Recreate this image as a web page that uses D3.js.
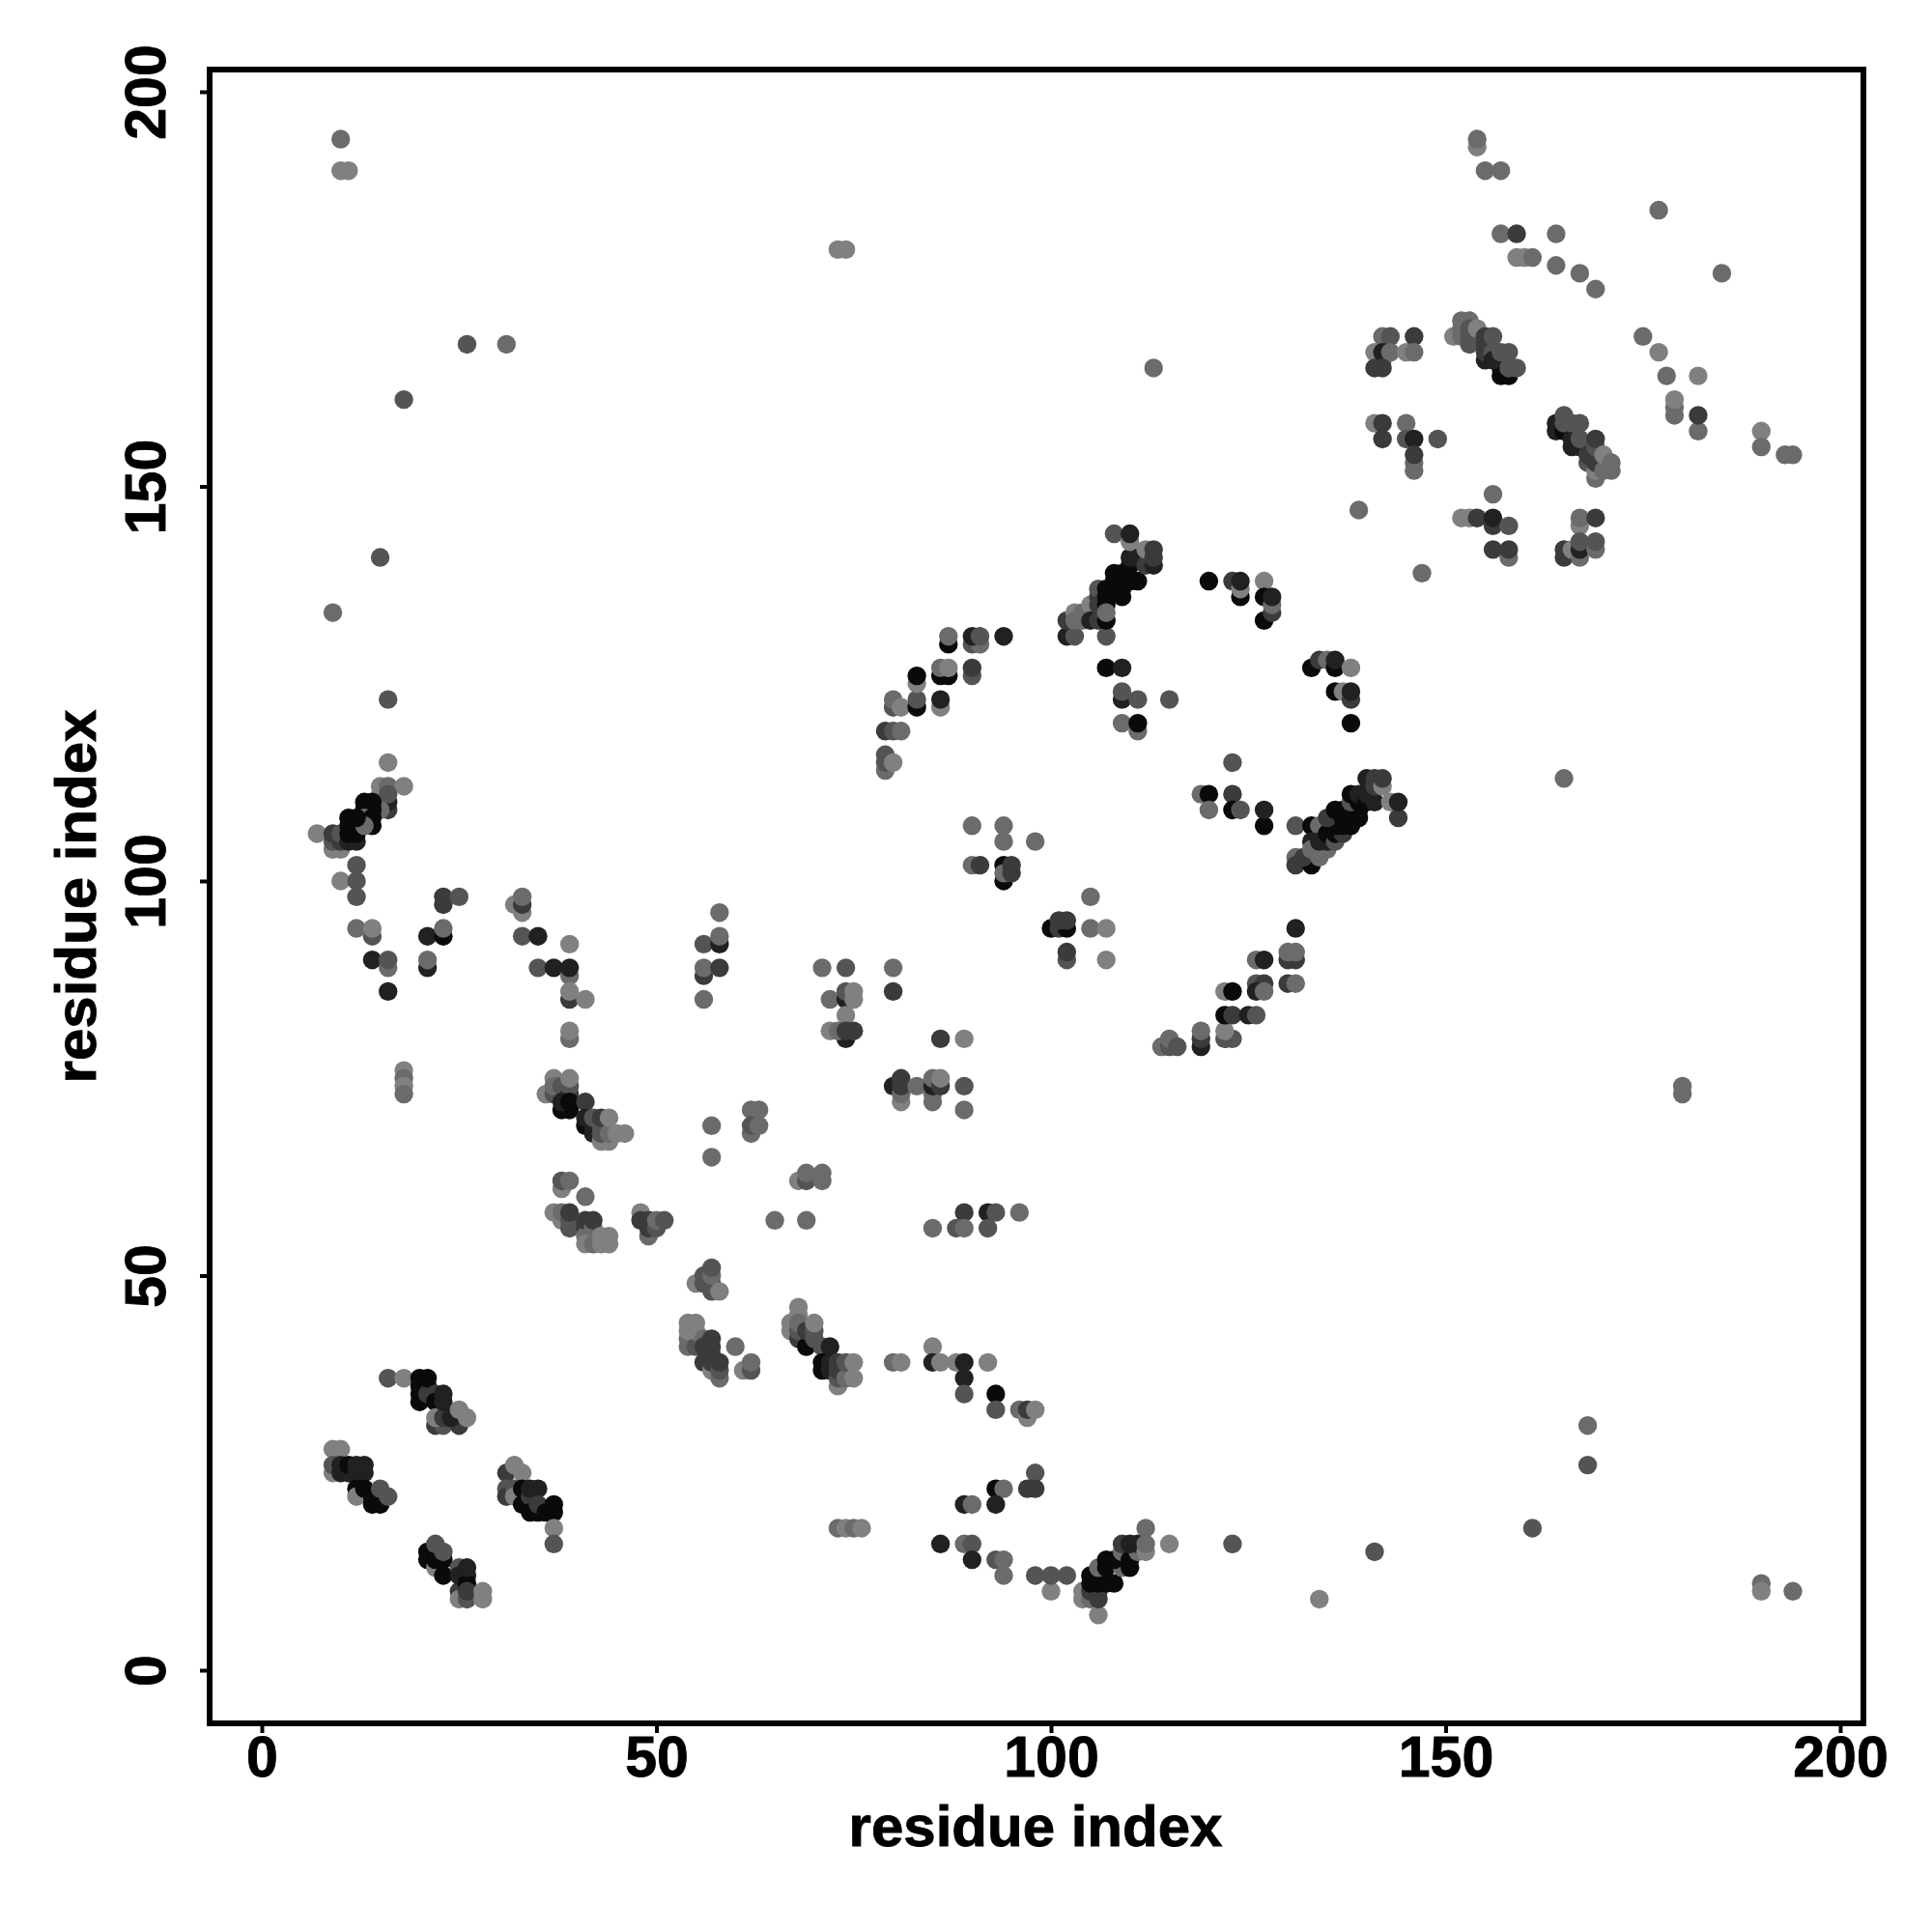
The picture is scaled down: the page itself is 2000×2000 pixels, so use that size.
<!DOCTYPE html>
<html><head><meta charset="utf-8"><style>html,body{margin:0;background:#fff}</style>
<script src="https://cdn.jsdelivr.net/npm/d3@7"></script></head><body>
<svg id="c" width="2000" height="2000"></svg>
<script>
// Contact strength levels read from the grey of each dot
const L=.5, M=.58, D=.67, S=.77, K=.87, B=.96;
const axisTicks=[0,50,100,150,200];
const axisTitle="residue index";
// each entry: [residue x, residue y, strength], in drawing order
const blockLowerLeft=[
[16,37,D],[18,37,L],[20,34,B],[20,35,B],[20,36,B],[20,37,B],[21,36,B],[21,35,S],[21,37,B],[22,35,S],[22,34,B],[23,33,B],[22,31,S],[23,31,D],[25,31,S],[22,32,L],[23,32,S],[24,32,K],[23,34,K],[23,35,K],[25,33,L],[26,32,L],
[9,28,L],[10,28,L],[9,25,L],[9,26,D],[10,25,K],[10,26,K],[11,25,K],[11,26,B],[12,25,K],[12,26,K],[13,25,K],[13,26,K],[12,23,B],[12,22,L],[13,23,B],[14,21,B],[15,21,B],[14,22,B],[15,23,D],[16,22,D],
[31,25,S],[32,26,L],[33,25,L],[31,23,D],[31,22,S],[32,23,D],[32,22,L],[33,21,B],[33,23,B],[34,22,S],[34,23,K],[35,23,K],[34,20,B],[35,20,B],[35,21,S],[36,20,B],[37,20,B],[37,21,B],[37,18,L],[37,16,D],
[21,15,B],[21,14,B],[22,13,L],[22,14,B],[22,16,D],[23,12,B],[23,14,B],[23,15,D],[25,10,S],[25,9,L],[26,9,D],[25,13,D],[25,12,K],[26,12,K],[26,11,B],[26,10,S],[26,13,K],[28,10,L],[28,9,L]
];
const blockLeftColumn=[
[10,194,M],[10,190,L],[11,190,L],[26,168,D],[31,168,M],[18,161,D],[15,141,D],[9,134,M],[16,123,D],
[16,115,L],[15,112,L],[15,111,L],[16,112,M],[18,112,L],[16,109,S],[16,110,K],[16,111,D],[15,109,M],[13,109,B],[13,110,B],[14,110,B],[14,109,B],[13,108,M],[14,107,B],[14,108,B],
[7,106,L],[9,104,L],[10,104,L],[9,105,D],[10,105,S],[9,106,S],[10,106,D],[11,105,K],[12,105,K],[11,106,B],[12,106,B],[11,107,B],[12,107,B],[13,107,M],[11,108,B],[12,108,B],
[12,102,D],[10,100,L],[12,100,D],[12,98,D],[14,93,D],[12,94,M],[14,94,L],[14,90,K],[16,89,M],[16,90,D],[16,86,K],
[18,76,L],[18,75,M],[18,74,L],[18,73,M],
[23,97,S],[23,98,S],[25,98,D],[21,93,K],[23,93,B],[23,94,M],[21,89,K],[21,90,M]
];
const blockMiddleLeft=[
[32,97,L],[33,96,L],[33,97,S],[33,98,M],[33,93,D],[35,93,K],[39,92,L],
[35,89,D],[37,89,K],[39,88,M],[39,89,K],[39,85,S],[39,86,L],[41,85,L],[39,80,M],[39,81,L],
[36,73,L],[37,75,L],[37,73,D],[37,74,M],[38,74,D],[39,73,S],[39,74,D],[38,71,B],[39,71,B],[38,72,K],[39,72,B],[39,75,L],[41,72,S],[41,69,B],[41,70,K],[42,68,K],[42,69,K],[43,67,L],[44,67,L],[43,68,D],[42,70,D],[43,69,D],[43,70,S],[44,68,M],[44,70,L],[45,68,L],[46,68,L],
[38,61,L],[38,62,D],[39,62,M],[41,60,M],
[37,58,L],[38,57,L],[38,58,M],[39,56,D],[39,57,D],[39,58,S],[41,56,S],[42,55,M],[41,55,M],[41,54,L],[42,54,M],[41,57,S],[42,56,M],[42,57,S],[43,54,L],[44,54,L],[43,55,L],[44,55,L],
[48,58,L],[48,57,S],[49,55,M],[49,56,S],[49,57,S],[50,56,D],[50,57,M],[51,57,D],
[56,85,M],[56,88,S],[56,89,M],[56,92,D],[58,89,S],[58,92,K],[58,93,M],[58,96,M],
[57,69,M],[57,65,M],[62,71,M],[63,71,M],[62,68,M],[62,69,D],[63,69,M],[65,57,M],[69,57,M],
[68,62,L],[69,62,D],[69,63,M],[71,62,M],[71,63,M],
[71,89,M],[74,89,D],[72,85,M],[74,85,K],[74,86,D],[75,85,L],[75,86,L],[74,83,L],[74,80,K],[72,81,L],[73,81,M],[74,81,S],[75,81,S]
];
const blockBottomMiddle=[
[55,49,L],[56,49,D],[56,50,D],[57,48,D],[57,49,D],[57,50,M],[57,51,D],[58,48,L],
[54,41,M],[54,42,M],[54,43,L],[54,44,L],[55,41,D],[55,43,L],[55,44,L],[56,42,M],[56,39,S],[56,41,S],[57,38,L],[57,39,S],[57,40,S],[57,41,S],[57,42,S],[58,37,M],[58,38,D],[58,39,S],[60,41,M],[61,38,L],[62,38,D],[62,39,M],
[67,43,L],[67,44,L],[68,46,L],[68,45,L],[68,42,S],[68,43,D],[68,44,M],[69,41,B],[69,43,S],[70,42,D],[70,43,D],[70,44,L],[71,41,D],[72,41,K],[71,38,B],[71,39,B],[72,38,K],[72,39,K],[73,36,L],[73,37,D],[73,38,S],[73,39,S],[74,37,M],[74,39,D],[75,37,L],[75,39,L],
[80,39,M],[81,39,L],[85,41,L],[85,39,K],[86,39,L],[88,39,L],[89,39,K],[89,37,K],[89,35,D],[92,39,L],[93,35,B],[93,33,D],[96,33,M],[97,32,L],[97,33,S],[98,33,L],
[98,25,D],[97,23,S],[98,23,S],[93,23,B],[94,23,M],[93,21,K],[89,21,K],[90,21,M],
[73,18,M],[74,18,L],[75,18,M],[76,18,L],
[86,16,K],[89,16,M],[90,16,D],[90,14,K],[93,14,D],[94,14,M],[94,12,M],[98,12,D],[100,10,L],[100,12,D],[102,12,D],
[104,10,L],[104,9,L],[105,9,M],[105,10,S],[106,7,L],[106,9,S],[106,10,S],[105,11,B],[105,12,B],[106,11,B],[106,12,B],[107,11,B],[108,11,B],[106,13,M],[107,13,B],[107,14,B],[109,13,M],[108,14,B],[109,15,M],[109,16,S],[110,13,B],[110,14,B],[111,15,M],[110,16,K],[111,16,K],[112,15,L],[112,16,M],[112,18,M],[115,16,L],[123,16,D],[141,15,D],[134,9,L],
[161,18,D],[168,31,M],[168,26,D],[190,11,M],[190,10,L],[194,10,M]
];
const blockCentre=[
[80,89,M],[80,86,S],[86,80,S],[89,80,L],
[80,74,K],[81,72,L],[81,73,M],[81,74,S],[81,75,S],[83,74,M],[85,72,M],[85,73,M],[85,74,K],[85,75,M],[86,74,S],[86,75,L],[89,74,D],[89,71,M],
[89,58,S],[92,58,K],[93,58,D],[96,58,M],[85,56,M],[88,56,D],[89,56,M],[92,56,D],
[100,94,B],[101,94,S],[102,90,D],[102,91,S],[102,94,B],[101,95,S],[102,95,S],[105,94,M],[107,94,L],[107,90,L],[105,98,M],
[90,107,M],[94,107,M],[94,105,M],[98,105,M],[90,102,M],[91,102,S],[94,100,B],[94,102,B],[94,101,M],[95,101,S],[95,102,S],
[114,79,M],[115,79,D],[115,80,M],[116,79,D],[119,79,K],[119,80,S],[119,81,M],
[122,80,D],[123,80,D],[122,81,L],[122,83,B],[123,83,S],[125,83,K],[126,83,D],[122,86,L],[123,86,B],
[126,87,D],[127,87,S],[126,86,K],[127,86,M],[126,90,M],[127,90,K],[130,87,S],[131,87,M],[130,90,S],[131,90,S],[130,91,M],[131,91,M],[131,94,K]
];
const blockArc=[
[79,114,M],[79,115,D],[79,116,D],[80,115,L],[79,119,S],[80,119,D],[81,119,M],
[80,122,D],[80,123,M],[81,122,L],[83,122,B],[83,123,D],[86,122,L],[86,123,K],
[83,125,L],[83,126,B],[86,126,B],[87,126,B],[86,127,M],[87,127,L],[90,126,D],[90,127,S],
[87,130,B],[87,131,M],[90,130,D],[91,130,M],[90,131,K],[91,131,D],[94,131,K],
[102,131,K],[103,131,D],[102,133,S],[103,134,L],[103,133,M],[104,133,M],[104,134,M],[105,135,L],[105,133,K],[106,133,S],[107,131,D],[107,133,B],
[106,136,S],[106,137,D],[106,135,S],[107,135,B],[107,136,B],[107,137,B],[107,134,M],[108,138,B],[108,139,B],[109,136,B],[109,137,B],[109,139,B],[110,138,B],[110,140,B],[111,138,B],[110,141,K],[111,141,K],[112,140,S],[112,142,L],[113,140,K],[113,141,S],[113,142,S],[108,144,D],[110,143,L],[110,144,K],
[107,127,B],[109,127,K],[109,123,K],[109,124,D],[111,123,D],[115,123,D],[109,120,M],[111,119,M],[111,120,B],
[113,165,M],[120,138,B],[123,138,S],[124,136,B],[124,137,L],[124,138,K],[127,138,L],[127,136,B],[127,133,B],[128,134,S],[128,135,M],[128,136,K],
[133,127,B],[134,128,S],[135,128,M],[136,127,B],[136,128,K],[138,127,L],[136,124,B],[137,124,L],[138,123,S],[138,124,K],[138,120,B]
];
const blockRightArc=[
[123,115,D],[119,111,M],[120,111,B],[123,111,S],[120,109,M],[123,109,B],[124,109,D],[127,107,B],[127,109,K],
[131,107,D],[131,103,M],[131,102,S],[133,102,B],[132,103,S],[133,107,B],[134,107,M],[133,105,K],[133,104,M],[134,103,M],[135,104,M],[134,105,K],[135,105,K],[135,106,B],[136,105,D],[136,106,B],[137,106,S],[136,107,B],[137,107,B],[135,108,S],[136,109,B],[137,108,B],[137,109,B],[138,107,B],[138,109,B],[139,108,B],[139,109,B],[138,110,D],[139,110,B],[138,111,B],[139,111,K],[140,110,B],[140,111,K],[141,110,K],[140,113,K],[141,112,S],[141,113,S],[142,112,L],[142,113,S],[143,110,L],[144,108,S],[144,110,K],
[180,73,M],[180,74,M],[165,113,M]
];
const blockUpperRight=[
[142,169,M],[143,169,D],[146,169,S],[141,167,L],[142,166,M],[142,167,K],[143,167,M],[145,167,L],[146,167,M],[141,165,S],[142,165,S],
[151,169,L],[152,169,M],[153,168,D],[152,171,M],[153,171,M],[152,170,M],[153,170,D],[153,169,D],[154,170,L],[155,166,K],[155,167,S],[155,168,S],[155,169,S],[156,169,D],[156,167,D],[157,164,B],[157,165,B],[156,166,K],[158,164,B],[157,167,D],[158,165,D],[158,167,D],[159,165,D],
[141,158,L],[142,158,S],[145,158,M],[142,156,S],[145,156,D],[146,156,K],[149,156,D],[146,152,M],[146,153,M],[146,154,S],
[164,157,K],[164,158,K],[165,157,B],[165,159,D],[165,158,D],[166,155,K],[166,156,K],[166,158,D],[167,155,K],[167,156,D],[167,158,D],[168,153,D],[168,154,S],[169,151,M],[169,152,L],[169,153,S],[169,155,D],[169,156,S],[170,152,M],[170,154,L],[171,152,M],[171,153,M],
[139,147,M],[147,139,M],
[152,146,L],[153,146,L],[154,146,S],[156,145,S],[156,146,K],[156,149,M],[158,145,D],[158,141,M],[156,142,S],[158,142,S],
[167,145,L],[167,146,M],[169,146,S],[165,141,S],[165,142,S],[166,142,L],[167,141,M],[167,142,K],[167,143,D],[169,142,M],[169,143,D],
[154,193,L],[154,194,M],[155,190,M],[157,190,M],[157,182,M],[159,182,S],[159,179,L],[160,179,L],[161,179,M],[164,182,M],[164,178,M],[167,177,M],[169,175,M],[177,185,M],[185,177,M],
[175,169,M],[177,167,L],[178,164,M],[182,164,L],[179,159,M],[179,160,M],[179,161,L],[182,157,M],[182,159,S],
[190,157,L],[190,155,M],[193,154,M],[194,154,M],[73,180,L],[74,180,L]
];
const allContacts=[...blockLowerLeft,...blockLeftColumn,...blockMiddleLeft,...blockBottomMiddle,...blockCentre,...blockArc,...blockRightArc,...blockUpperRight];

const x=d3.scaleLinear().domain([0,200]).range([271,1905]);
const y=d3.scaleLinear().domain([0,200]).range([1729,95]);
const grey=d3.scaleLinear().domain([0,1]).range([255,0]);
const frame={l:x.invert(217),r:x.invert(1929),t:y.invert(72),b:y.invert(1784)};
const font='"Liberation Sans",Arial,sans-serif';
const svg=d3.select("#c");
svg.append("rect").attr("width",2000).attr("height",2000).attr("fill","#fff");

svg.append("g").selectAll("circle").data(allContacts).join("circle")
 .attr("cx",d=>x(d[0])).attr("cy",d=>y(d[1])).attr("r",9.7)
 .attr("fill",d=>{const g=Math.round(grey(d[2]));return `rgb(${g},${g},${g})`});

svg.append("rect").attr("x",x(frame.l)).attr("y",y(frame.t))
 .attr("width",x(frame.r)-x(frame.l)).attr("height",y(frame.b)-y(frame.t))
 .attr("fill","none").attr("stroke","#000").attr("stroke-width",6);

const gx=svg.append("g").attr("transform",`translate(0,${y(frame.b)})`)
 .call(d3.axisBottom(x).tickValues(axisTicks).tickSize(10).tickPadding(0));
const gy=svg.append("g").attr("transform",`translate(${x(frame.l)},0)`)
 .call(d3.axisLeft(y).tickValues(axisTicks).tickSize(10).tickPadding(0));
[gx,gy].forEach(g=>{g.select(".domain").remove();g.selectAll("line").attr("stroke","#000").attr("stroke-width",4);
 g.selectAll("text").attr("font-family",font).attr("font-weight","bold").attr("font-size",59).attr("fill","#000")
  .attr("stroke","#000").attr("stroke-width",0.9);});
gx.selectAll("text").attr("dy",null).attr("y",55).attr("text-anchor","middle");
gy.selectAll("text").attr("dy",null).attr("x",null).attr("y",null).attr("text-anchor","middle")
 .attr("transform","translate(-46,0) rotate(-90)");

svg.append("text").attr("x",1072).attr("y",1911).attr("text-anchor","middle").attr("font-family",font)
 .attr("font-weight","bold").attr("font-size",60).attr("stroke","#000").attr("stroke-width",0.9).text(axisTitle);
svg.append("text").attr("transform","translate(99,928) rotate(-90)").attr("text-anchor","middle").attr("font-family",font)
 .attr("font-weight","bold").attr("font-size",60).attr("stroke","#000").attr("stroke-width",0.9).text(axisTitle);
</script></body></html>
